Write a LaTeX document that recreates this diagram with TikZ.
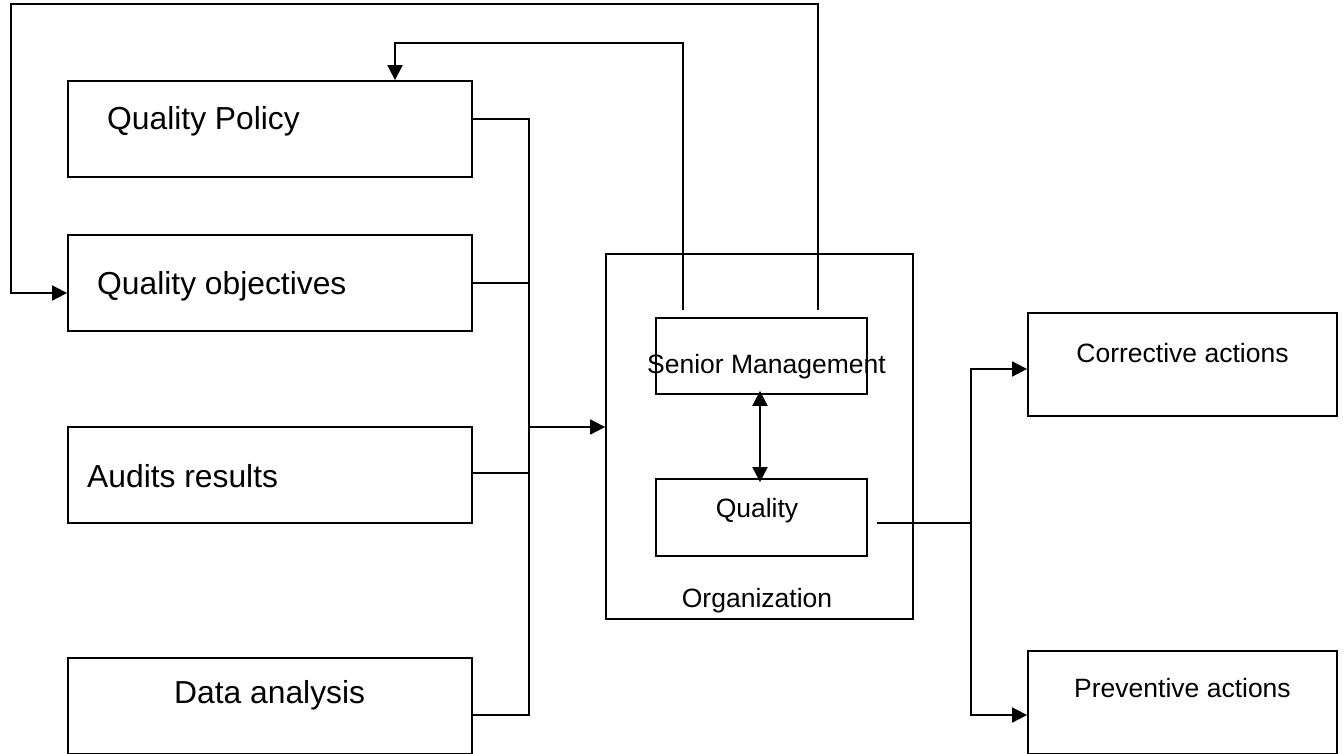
\documentclass[tikz,border=0pt]{standalone}
\usepackage{fontspec}
\setmainfont{Liberation Sans}
\usetikzlibrary{arrows.meta}
\tikzset{
  box/.style={draw,line width=1.8pt,inner sep=0pt,minimum width=#1},
  box/.default=404pt,
  ln/.style={line width=1.8pt},
  arr/.style={line width=1.8pt,-{Triangle[length=15pt,width=15pt]}},
  darr/.style={line width=2pt,{Triangle[length=15pt,width=15pt]}-{Triangle[length=15pt,width=15pt]},shorten <=-4pt,shorten >=-4pt},
  big/.style={font=\fontsize{31.8}{38}\selectfont,inner sep=0pt,anchor=base west},
  small/.style={font=\fontsize{26.5}{32}\selectfont,inner sep=0pt,anchor=base}
}

\begin{document}
\begin{tikzpicture}[x=1pt,y=-1pt]
\useasboundingbox (0,0) rectangle (1344,753);
\node[box,minimum height=96pt] (qpol) at (270,129) {}; \node[big] (tqpol) at (107,129) {Quality Policy};
\node[box,minimum height=96pt] (qobj) at (270,283) {}; \node[big] (tqobj) at (97,294) {Quality objectives};
\node[box,minimum height=96pt] (audit) at (270,475) {}; \node[big] (taudit) at (87,487) {Audits results};
\node[box,minimum height=96pt] (data) at (270,706) {}; \node[big] (tdata) at (174,703) {Data analysis};
\node[box=307pt,minimum height=365pt] (org) at (759.5,436.5) {}; \node[small] (torg) at (757,607) {Organization};
\node[box=211pt,minimum height=76pt] (senior) at (761.5,356) {}; \node[small] (tsenior) at (766.5,373) {Senior Management};
\node[box=211pt,minimum height=77pt] (qual) at (761.5,517.5) {}; \node[small] (tqual) at (757,517) {Quality};
\node[box=309pt,minimum height=103pt] (corr) at (1182.5,364.5) {}; \node[small] (tcorr) at (1182.5,362) {Corrective actions};
\node[box=309pt,minimum height=103pt] (prev) at (1182.5,702.5) {}; \node[small] (tprev) at (1182.5,697) {Preventive actions};
\coordinate (bl) at (529,427);
\coordinate (br) at (971,523);
\coordinate (in1) at (683,43);
\coordinate (out1) at (11,4);
\draw[ln] ([yshift=10pt]qpol.east) -- ([yshift=10pt]qpol.east -| bl) -- ([yshift=-9pt]data.east -| bl) -- ([yshift=-9pt]data.east);
\draw[ln] (qobj.east) -- (qobj.east -| bl);
\draw[ln] ([yshift=2pt]audit.east) -- ([yshift=2pt]audit.east -| bl);
\draw[arr] (bl) -- (bl -| org.west);
\draw[arr] ([xshift=-78.5pt,yshift=7pt]senior.north) -- (in1) -| ([xshift=125pt]qpol.north);
\draw[arr] ([xshift=56.5pt,yshift=7pt]senior.north) |- (out1) |- ([yshift=-10pt]qobj.west);
\draw[darr] ([xshift=-1.5pt]senior.south) -- ([xshift=-1.5pt]qual.north);
\draw[ln] ([xshift=9pt,yshift=-5.5pt]qual.east) -- (br);
\draw[arr] (br) |- ([yshift=-4.5pt]corr.west);
\draw[arr] (br) |- ([yshift=-12.5pt]prev.west);
\end{tikzpicture}
\end{document}
